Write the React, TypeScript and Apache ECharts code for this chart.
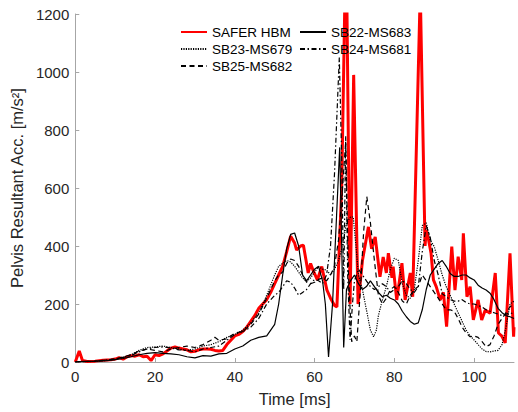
import React, { useEffect, useRef } from "react";
import * as echarts from "echarts";

const xTickValues = [0, 20, 40, 60, 80, 100];
const yTickValues = [0, 200, 400, 600, 800, 1000, 1200];

const saferT = [0, 1, 1.8, 3, 5, 7, 9, 10, 11, 12, 13, 14, 15, 16, 17, 18, 19, 20, 21, 22, 23, 24, 25, 26, 27, 28, 29, 30, 31, 32, 33, 34, 35, 36, 37, 38, 39, 40, 41, 42, 43, 44, 45, 46, 47, 48, 49, 50, 51, 52, 53, 54, 55, 55.5, 56.5, 57.2, 58.4, 59, 59.6, 60.7, 61.8, 63.1, 64, 65, 65.6, 66.8, 67.9, 68.9, 69.8, 70.9, 72, 73.5, 74.3, 75.2, 76.4, 77.2, 78, 78.5, 79.4, 79.7, 80.6, 81.9, 82.7, 84, 84.6, 86.5, 87.7, 88, 88.6, 89.2, 89.8, 90.5, 91.5, 92.3, 93.1, 94.4, 95.2, 96, 96.9, 97.3, 98.2, 99, 99.8, 101, 101.9, 102.8, 104, 105.3, 106.1, 106.9, 107.8, 109, 109.9, 110];
const saferV = [0, 38, 5, 2, 3, 6, 8, 10, 15, 10, 18, 22, 20, 25, 18, 20, 5, 25, 22, 28, 38, 48, 52, 48, 45, 42, 35, 37, 42, 45, 45, 44, 40, 38, 40, 60, 75, 90, 95, 105, 120, 140, 160, 185, 200, 215, 240, 270, 300, 330, 380, 434, 410, 386, 400, 403, 307, 340, 317, 283, 329, 248, 220, 195, 190, 600, 1500, 200, 990, 200, 350, 466, 390, 431, 294, 362, 307, 375, 290, 329, 214, 341, 214, 307, 225, 1280, 400, 455, 420, 375, 283, 260, 214, 240, 122, 398, 248, 363, 283, 444, 225, 260, 145, 214, 145, 179, 168, 307, 100, 90, 66, 375, 87, 120];

const sb22T = [0, 2, 5, 8, 10, 12, 14, 16, 18, 20, 22, 24, 26, 28, 30, 32, 34, 36, 38, 40, 42, 44, 46, 48, 50, 51, 52, 53, 54, 55, 56, 57, 58, 59, 60, 61, 62, 62.7, 63.5, 64.5, 65.5, 66.3, 66.8, 67.3, 68, 69, 70, 71, 72, 73, 74, 75, 76, 77, 78, 79, 80, 81, 82, 83, 84, 85, 86, 87, 88, 89, 90, 91, 92, 93, 94, 95, 96, 97, 98, 99, 100, 101, 102, 103, 104, 105, 106, 107, 108, 109, 110];
const sb22V = [0, 2, 3, 5, 8, 12, 18, 25, 30, 32, 30, 28, 25, 18, 14, 22, 20, 28, 30, 45, 55, 75, 85, 90, 130, 200, 300, 390, 440, 445, 400, 300, 280, 300, 320, 330, 280, 200, 17, 200, 500, 740, 400, 50, 250, 280, 300, 270, 250, 260, 280, 260, 240, 225, 230, 220, 214, 200, 175, 156, 140, 130, 135, 180, 250, 300, 320, 340, 350, 330, 305, 295, 295, 300, 300, 290, 283, 265, 255, 248, 237, 215, 185, 170, 160, 156, 150];

const sb23T = [0, 5, 10, 14, 16, 18, 20, 22, 24, 26, 28, 30, 32, 34, 36, 38, 40, 42, 44, 46, 48, 50, 51, 52, 53, 54, 55, 56, 57, 58, 59, 60, 61, 62, 63, 64, 65, 66, 67, 68, 69, 69.7, 70.5, 71, 72, 73, 74, 74.8, 75.5, 76, 77, 78, 79, 80, 81, 82, 83, 84, 85, 86, 87, 88, 89, 90, 91, 92, 93, 94, 95, 96, 97, 98, 99, 100, 101, 102, 103, 104, 105, 106, 107, 108, 109, 110];
const sb23V = [0, 2, 8, 25, 40, 50, 52, 55, 50, 45, 40, 45, 55, 60, 70, 85, 95, 110, 135, 170, 230, 300, 330, 340, 350, 345, 330, 310, 290, 277, 290, 310, 329, 320, 317, 300, 320, 350, 400, 480, 500, 500, 380, 300, 250, 180, 110, 87, 110, 160, 214, 260, 320, 358, 350, 270, 230, 220, 250, 350, 470, 480, 420, 398, 350, 300, 260, 230, 200, 170, 140, 110, 90, 76, 60, 45, 36, 35, 38, 40, 60, 120, 200, 210];

const sb24T = [0, 5, 10, 14, 16, 18, 20, 22, 24, 26, 28, 30, 32, 34, 36, 38, 40, 42, 44, 46, 48, 50, 51, 52, 53, 54, 55, 56, 57, 58, 59, 60, 61, 62, 63, 64, 65, 66.2, 66.8, 67.3, 67.8, 68.3, 68.9, 69.5, 70, 71, 72, 73, 74, 75, 76, 77, 78, 79, 80, 81, 82, 83, 84, 85, 86, 87, 88, 89, 90, 91, 92, 93, 94, 95, 96, 97, 98, 99, 100, 101, 102, 103, 104, 105, 106, 107, 108, 109, 110];
const sb24V = [0, 3, 10, 22, 35, 45, 50, 52, 48, 42, 40, 35, 45, 50, 55, 75, 95, 105, 120, 150, 200, 230, 240, 260, 280, 275, 255, 230, 240, 250, 270, 285, 280, 270, 300, 400, 650, 1050, 700, 250, 780, 300, 76, 200, 280, 320, 300, 280, 260, 250, 260, 270, 260, 240, 250, 260, 280, 270, 250, 240, 260, 380, 470, 430, 350, 300, 235, 225, 215, 210, 210, 215, 205, 200, 200, 195, 190, 180, 175, 170, 165, 160, 165, 170, 165];

const sb25T = [0, 5, 10, 14, 16, 18, 20, 22, 24, 26, 28, 30, 32, 34, 35, 36, 38, 40, 42, 44, 46, 48, 50, 51, 52, 53, 54, 55, 56, 57, 58, 59, 60, 61, 62, 63, 64, 65, 66, 67, 67.8, 68.5, 69.3, 70, 70.6, 71.5, 72.3, 73.1, 74, 75, 76, 77, 78, 79, 80, 81, 82, 83, 84, 85, 86, 87, 88, 89, 90, 91, 92, 93, 94, 95, 96, 97, 98, 99, 100, 101, 102, 103, 104, 105, 106, 107, 108, 109, 110];
const sb25V = [0, 3, 10, 25, 38, 45, 40, 35, 45, 50, 55, 50, 60, 75, 85, 75, 80, 100, 105, 130, 165, 220, 280, 300, 310, 340, 355, 350, 330, 300, 275, 270, 275, 285, 290, 280, 300, 330, 420, 600, 760, 300, 70, 90, 70, 250, 450, 570, 480, 350, 230, 200, 220, 250, 260, 240, 210, 200, 230, 250, 260, 300, 280, 260, 240, 220, 200, 180, 180, 175, 150, 120, 100, 87, 90, 85, 70, 53, 60, 90, 130, 150, 170, 190, 200];

const pairs = (t: number[], v: number[]) => t.map((x, i) => [x, v[i]]);

const FONT = "'Liberation Sans', Arial, Helvetica, sans-serif";
const AXIS_COLOR = "#a6a6a6";
const TEXT_COLOR = "#262626";

export default function App() {
  const ref = useRef<HTMLDivElement>(null);
  useEffect(() => {
    document.body.style.margin = "0";
    if (!ref.current) return;
    const chart = echarts.init(ref.current, undefined, { renderer: "svg" });
    const black = (name: string, t: number[], v: number[], type: any) => ({
      name,
      type: "line",
      data: pairs(t, v),
      symbol: "none",
      showSymbol: false,
      clip: true,
      lineStyle: { color: "#000000", width: 1.2, type },
      itemStyle: { color: "rgba(0,0,0,0)", borderWidth: 0 },
    });
    const legendBase = {
      orient: "vertical",
      top: 25,
      padding: 0,
      itemGap: 3,
      itemWidth: 26,
      itemHeight: 14,
      itemStyle: { opacity: 0, borderWidth: 0 },
      textStyle: { fontSize: 13.5, color: "#000", fontFamily: FONT },
    };
    chart.setOption({
      animation: false,
      textStyle: { fontFamily: FONT },
      grid: { left: 75, right: 4, top: 14, bottom: 50, containLabel: false },
      legend: [
        { ...legendBase, data: ["SAFER HBM", "SB23-MS679", "SB25-MS682"], left: 180 },
        { ...legendBase, data: ["SB22-MS683", "SB24-MS681"], left: 299 },
      ],
      xAxis: {
        type: "value",
        min: 0,
        max: 110,
        interval: 20,
        name: "Time [ms]",
        nameLocation: "middle",
        nameGap: 28,
        nameTextStyle: { fontSize: 16.5, color: TEXT_COLOR, fontFamily: FONT },
        axisLine: { show: true, lineStyle: { color: AXIS_COLOR, width: 1 } },
        axisTick: { show: true, inside: true, length: 4, lineStyle: { color: AXIS_COLOR }, customValues: xTickValues },
        axisLabel: { fontSize: 15, color: TEXT_COLOR, margin: 7, fontFamily: FONT, customValues: xTickValues, formatter: (v: number) => String(v) },
        splitLine: { show: false },
      },
      yAxis: {
        type: "value",
        min: 0,
        max: 1200,
        interval: 200,
        name: "Pelvis Resultant Acc. [m/s²]",
        nameLocation: "middle",
        nameGap: 39,
        nameTextStyle: { fontSize: 16.5, color: TEXT_COLOR, fontFamily: FONT },
        axisLine: { show: true, lineStyle: { color: AXIS_COLOR, width: 1 } },
        axisTick: { show: true, inside: true, length: 4, lineStyle: { color: AXIS_COLOR }, customValues: yTickValues },
        axisLabel: { fontSize: 15, color: TEXT_COLOR, margin: 6, fontFamily: FONT, customValues: yTickValues, formatter: (v: number) => String(v) },
        splitLine: { show: false },
      },
      series: [
        {
          name: "SAFER HBM",
          type: "line",
          data: pairs(saferT, saferV),
          symbol: "none",
          showSymbol: false,
          clip: true,
          lineStyle: { color: "#ff0000", width: 3 },
          itemStyle: { color: "rgba(0,0,0,0)", borderWidth: 0 },
        },
        black("SB22-MS683", sb22T, sb22V, "solid"),
        black("SB23-MS679", sb23T, sb23V, [1.2, 1.2]),
        black("SB24-MS681", sb24T, sb24V, [5, 2.5, 1.5, 2.5]),
        black("SB25-MS682", sb25T, sb25V, [5, 3.5]),
      ],
    });
    return () => chart.dispose();
  }, []);
  return <div ref={ref} style={{ width: 518, height: 412 }} />;
}
